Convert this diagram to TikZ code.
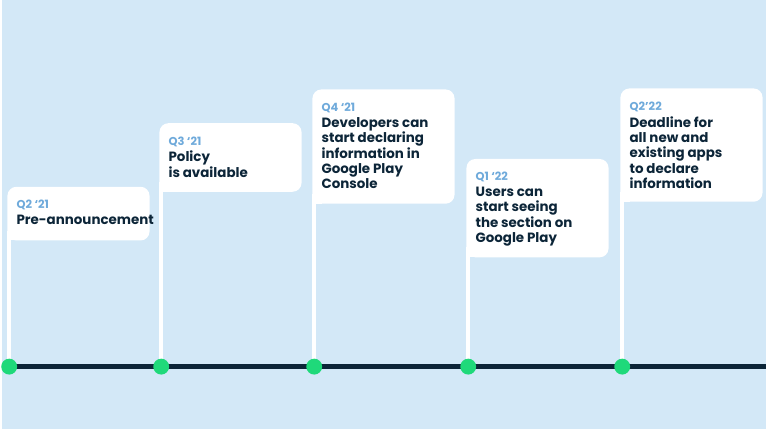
\documentclass[tikz,border=0pt]{standalone}
\usepackage{fontspec}
\setmainfont{Poppins}
\definecolor{bg}{HTML}{D3E8F7}
\definecolor{navy}{HTML}{0C2538}
\definecolor{qblue}{HTML}{6FAADB}
\definecolor{dotgreen}{HTML}{1FD97A}
\begin{document}
\begin{tikzpicture}[x=1pt,y=-1pt,
  card/.style={fill=white,rounded corners=9pt,draw=none},
  qlab/.style={anchor=base west,inner sep=0pt,text=qblue,font=\fontsize{11.5}{13}\selectfont\bfseries},
  title/.style={anchor=north west,inner sep=0pt,text=navy,align=left,font=\fontsize{13.5}{15.5}\selectfont\bfseries},
  dot/.style={circle,fill=dotgreen,minimum size=16pt,inner sep=0pt}]
\fill[bg] (0,0) rectangle (768,432);
\coordinate (L0) at (0,369);
\coordinate (L1) at (768,369);
\draw[navy,line width=5pt] (L0) -- (L1);
\foreach \i/\x/\t/\b/\q/\txt in {
 1/5/188/242/{Q2 ‘21}/{Pre-announcement},
 2/158/124/193/{Q3 ‘21}/{Policy\\is available},
 3/312/90/205/{Q4 ‘21}/{Developers can\\start declaring\\information in\\Google Play\\Console},
 4/467/160/259/{Q1 ‘22}/{Users can\\start seeing\\the section on\\Google Play},
 5/622/89/203/{Q2’22}/{Deadline for\\all new and\\existing apps\\to declare\\information}}{
  \pgfmathsetmacro{\r}{\x+143}
  \fill[card] (\x,\t) rectangle (\r,\b);
  \fill[white] (\x,\b-10) rectangle (\x+10,\b);
  \fill[white] (\x,\b) rectangle (\x+3.5,369);
  \node[qlab] (q\i) at (\x+9,\t+22) {\q};
  \node[title] (t\i) at (\x+9,\t+28) {\txt};
  \node[dot] (d\i) at (\x+1.75,369) {};
}
\end{tikzpicture}
\end{document}
